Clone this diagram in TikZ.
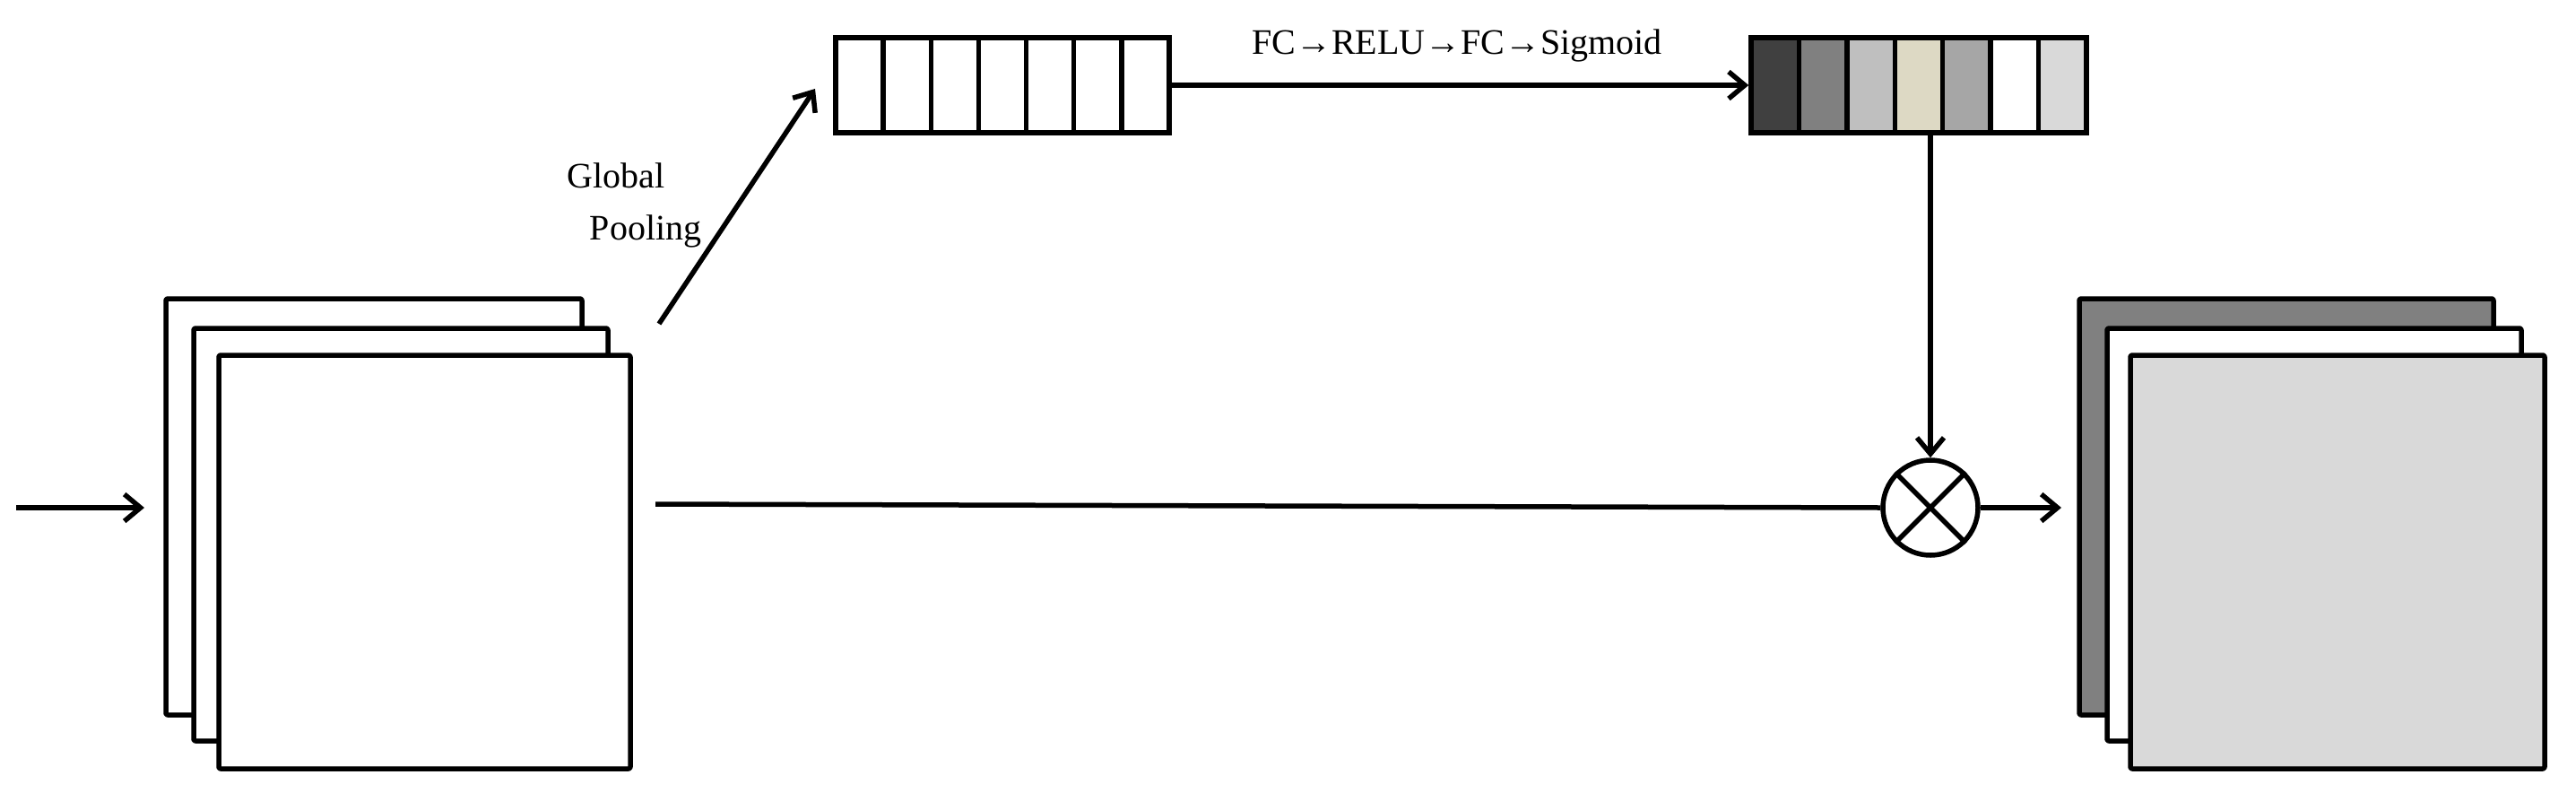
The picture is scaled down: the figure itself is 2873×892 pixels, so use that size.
\documentclass[tikz,border=0pt]{standalone}
\usepackage{fontspec}
\setmainfont{Liberation Serif}
\usetikzlibrary{arrows.meta}
\begin{document}
\begin{tikzpicture}[x=1pt,y=-1pt,line width=5.5pt,
  arr/.style={-{Straight Barb[length=18pt,width=30pt,line width=5.5pt]}},
  fmap/.style={draw,rounded corners=2pt,line join=round},
  lbl/.style={font=\fontsize{40}{44}\selectfont,inner sep=0pt}]
\useasboundingbox (0,0) rectangle (2873,892);
\definecolor{c1}{HTML}{404040}\definecolor{c2}{HTML}{808080}\definecolor{c3}{HTML}{BFBFBF}
\definecolor{c4}{HTML}{DDD9C4}\definecolor{c5}{HTML}{A6A6A6}\definecolor{c6}{HTML}{FFFFFF}\definecolor{c7}{HTML}{D9D9D9}
% left stack
\draw[fmap,fill=white] (185,333) rectangle (649,797);
\draw[fmap,fill=white] (216,366) rectangle (678,826);
\draw[fmap,fill=white] (244,396) rectangle (703,857);
\node[minimum size=0pt,inner sep=0pt] (in) at (703,562) {};
% right stack
\draw[fmap,fill=c2] (2319,333) rectangle (2781,797);
\draw[fmap,fill=white] (2350,366) rectangle (2812,826);
\draw[fmap,fill=c7] (2376,396) rectangle (2838,857);
\coordinate (outin) at (2299,566);
\coordinate (start) at (18,566);
\coordinate (stk) at (161,566);
% vectors
\foreach \i in {0,...,6} {
  \draw (932+\i*53.14,42) rectangle ++(53.14,106);
  \pgfmathtruncatemacro\c{\i+1}
  \draw[fill=c\c] (1953+\i*53.43,42) rectangle ++(53.43,106);
}
\draw[rounded corners=2pt] (932,42) rectangle (1304,148);
\draw[rounded corners=2pt] (1953,42) rectangle (2327,148);
\node[inner sep=0pt,minimum width=372pt,minimum height=106pt] (v1) at (1118,95) {};
\node[inner sep=0pt,minimum width=374pt,minimum height=106pt] (v2) at (2140,95) {};
% multiply
\node[draw,circle,minimum size=106pt,inner sep=0pt] (mul) at (2153,566) {};
\draw[line width=5.5pt] (mul.north west) -- (mul.south east) (mul.north east) -- (mul.south west);
% connectors
\draw[arr] (start) -- (stk);
\draw (731,562) -- (mul.west);
\draw[arr] (mul.east) -- (outin);
\coordinate (gp) at (735,361);
\draw[arr] (gp) -- (909,99);
\draw[arr] (v1.east) -- (v2.west);
\draw[arr] (v2.south -| mul.north) -- (mul.north);
% labels
\node[lbl] (g) at (687,196) {Global};
\node[lbl] (p) at (720,258) {Pooling};
\node[lbl] (fc) at (1625,51) {FC→RELU→FC→Sigmoid};
\end{tikzpicture}
\end{document}
